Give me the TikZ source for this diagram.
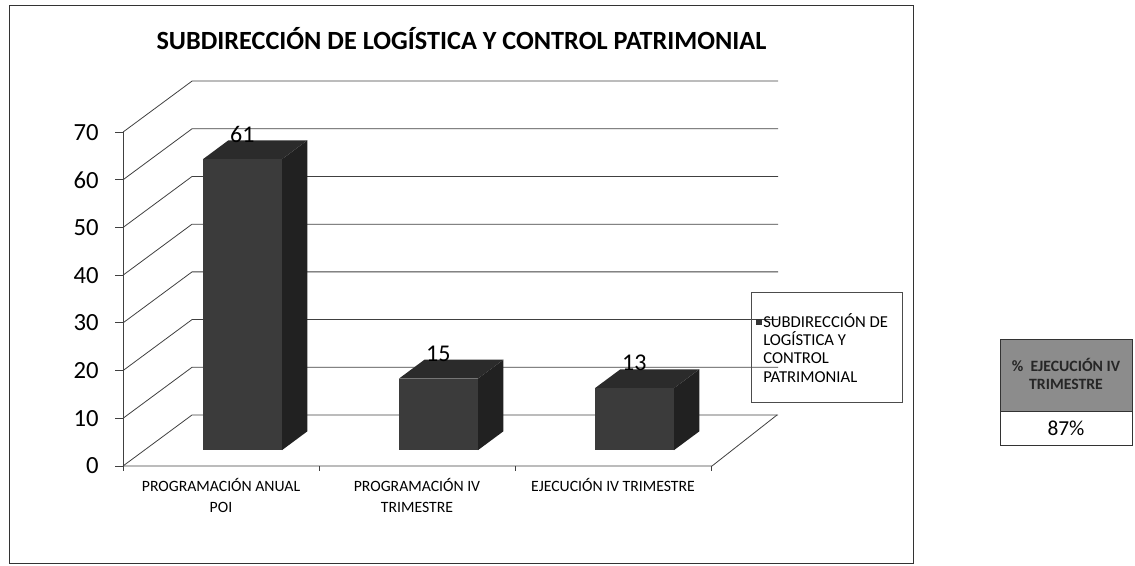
\documentclass[tikz,border=0pt]{standalone}
\usepackage{fontspec}
\setmainfont{Carlito}
\begin{document}
\begin{tikzpicture}[x=0.75pt,y=-0.75pt,
    gridline/.style={black!75, line width=0.6pt},
    barfront/.style={fill=black!77},
    barside/.style={fill=black!87},
    bartop/.style={fill=black!83},
    axislabel/.style={font=\fontsize{18.5}{20}\selectfont, anchor=east, inner sep=0pt},
    valuelabel/.style={font=\fontsize{18}{20}\selectfont, inner sep=0pt},
    catlabel/.style={font=\fontsize{11.8}{15.75}\selectfont, align=center, anchor=north, inner sep=0pt}]
    \useasboundingbox (0,0) rectangle (1135,566);
    \def\unitv{4.77}
    \def\dx{69}\def\dy{-51}

    \draw[line width=0.6pt, black!80] (9,5) rectangle (913,563);
    \node[font=\bfseries\fontsize{19.7}{23}\selectfont, anchor=base] (title) at (461.5,50) {SUBDIRECCIÓN DE LOGÍSTICA Y CONTROL PATRIMONIAL};

    % wall, floor and axis
    \foreach \v in {0,10,...,70}{
        \draw[gridline] (123,466-\unitv*\v) -- ++(\dx,\dy) -- (778,415-\unitv*\v);
        \draw[gridline] (115,466-\unitv*\v) -- (123,466-\unitv*\v);
        \node[axislabel] (tick\v) at (99,466-\unitv*\v) {\v};
    }
    \draw[gridline] (123,466) -- (712,466) -- (777,415);
    \draw[gridline] (123,466) -- (123,132);
    \foreach \x in {123,319,515,711}
        \draw[gridline] (\x,466) -- (\x,471);

    % bars
    \foreach \c/\v/\n in {221/61/a,417/15/b,613/13/c}{
        \pgfmathsetmacro\xl{\c-18.1}
        \pgfmathsetmacro\xr{\c+60.9}
        \pgfmathsetmacro\yt{450.2-\unitv*\v}
        \fill[barside] (\xr,450.2) -- (\xr,\yt) -- ++(25.5,-18.9) -- (\xr+25.5,450.2-18.9) -- cycle;
        \fill[bartop] (\xl,\yt) -- (\xr,\yt) -- ++(25.5,-18.9) -- (\xl+25.5,\yt-18.9) -- cycle;
        \fill[barfront] (\xl,450.2) rectangle (\xr,\yt);
        \node[valuelabel] (val\n) at (\c+21.4,\yt-25) {\v};
    }

    \node[catlabel] (cata) at (221,478) {PROGRAMACIÓN ANUAL\\POI};
    \node[catlabel] (catb) at (417,478) {PROGRAMACIÓN IV\\TRIMESTRE};
    \node[catlabel] (catc) at (613,478) {EJECUCIÓN IV TRIMESTRE};

    % legend
    \draw[black!70, line width=0.5pt] (751,292) rectangle (902,402);
    \node[fill=black!80, minimum size=4.5pt, inner sep=0pt] (legmark) at (759,322) {};
    \node[anchor=north west, align=left, inner sep=0pt, font=\fontsize{12.5}{13.75}\selectfont] (legtext) at (763,313) {SUBDIRECCIÓN DE\\LOGÍSTICA Y\\CONTROL\\PATRIMONIAL};

    % percentage table
    \draw[black!80, fill=black!45] (1000,339) rectangle (1132,411);
    \draw[black!80] (1000,411) rectangle (1132,445);
    \node[font=\bfseries\fontsize{11.8}{13.5}\selectfont, align=center, text=black!85] (pcthead) at (1066,374) {\%\ \ EJECUCIÓN IV\\TRIMESTRE};
    \node[font=\fontsize{16}{18}\selectfont] (pctval) at (1066,428) {87\%};
\end{tikzpicture}
\end{document}
